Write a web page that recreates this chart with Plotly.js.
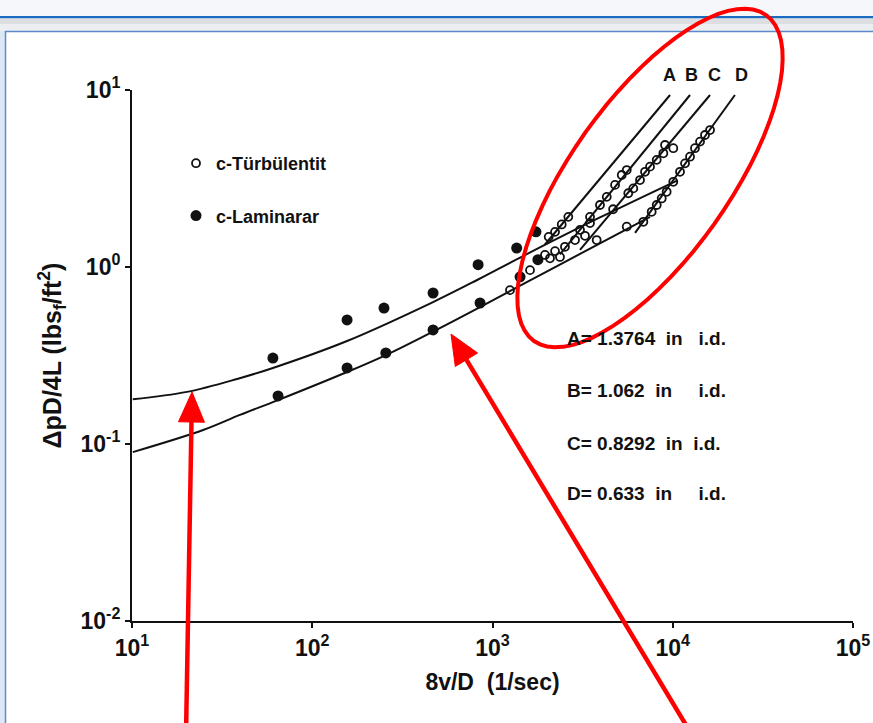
<!DOCTYPE html>
<html><head><meta charset="utf-8">
<script src="https://cdn.plot.ly/plotly-3.0.1.min.js"></script>
<style>html,body{margin:0;padding:0;background:#fff;} #chart{width:873px;height:723px;}</style>
</head><body><div id="chart"></div>
<script>
// ---- axis ticks ----
const xTickVals = [10, 100, 1000, 10000, 100000];
const xTickText = ['10<sup>1</sup>', '10<sup>2</sup>', '10<sup>3</sup>', '10<sup>4</sup>', '10<sup>5</sup>'];
const yTickVals = [0.01, 0.1, 1, 10];
const yTickText = ['10<sup>-2</sup>', '10<sup>-1</sup>', '10<sup>0</sup>', '10<sup>1</sup>'];

// ---- laminar model curves ----
const upperCurveX = [10.1, 20.2, 38.3, 60.5, 156, 468, 832, 1476, 3945, 10570];
const upperCurveY = [0.179, 0.197, 0.233, 0.269, 0.382, 0.634, 0.850, 1.153, 1.905, 3.08];
const lowerCurveX = [10.1, 24.8, 39.7, 64.6, 156, 256, 468, 853, 1476, 3475, 7480];
const lowerCurveY = [0.090, 0.120, 0.146, 0.177, 0.255, 0.318, 0.432, 0.594, 0.801, 1.27, 1.92];

// ---- laminar data (filled) ----
const lamUpperX = [60.5, 156, 250, 468, 832, 1362, 1742];
const lamUpperY = [0.306, 0.502, 0.586, 0.713, 1.03, 1.28, 1.58];
const lamLowerX = [64.6, 156, 256, 468, 853, 1422, 1786];
const lamLowerY = [0.187, 0.269, 0.327, 0.441, 0.626, 0.88, 1.10];

// ---- turbulent lines A-D ----
const lineAX = [1955, 9660];  const lineAY = [1.34, 9.37];
const lineBX = [2367, 12470]; const lineBY = [1.18, 9.37];
const lineCX = [3058, 16100]; const lineCY = [1.25, 9.37];
const lineDX = [6180, 22130]; const lineDY = [1.56, 9.37];

// ---- turbulent data (open) ----
const turbAX = [2050, 2223, 2421, 2634];
const turbAY = [1.48, 1.58, 1.74, 1.92];
const turbBX = [3475, 3947, 4303, 4785, 5212, 5556];
const turbBY = [1.92, 2.24, 2.49, 2.91, 3.31, 3.53];
const turbCX = [3058, 3475, 4667, 5665, 6040, 6581, 7015, 7480, 8147, 8867, 9060, 10070];
const turbCY = [1.62, 1.77, 2.12, 2.61, 2.78, 3.10, 3.45, 3.69, 4.03, 4.39, 4.89, 4.69];
const turbDX = [2084, 2367, 3784, 5556, 6870, 7640, 8147, 8685, 9250, 10070, 10970, 11700, 12470, 13280, 14170, 15100, 16100];
const turbDY = [1.12, 1.14, 1.42, 1.69, 1.80, 2.05, 2.24, 2.44, 2.66, 3.03, 3.45, 3.85, 4.20, 4.69, 5.11, 5.57, 5.94];
const turbLowX = [1250, 1615, 1955, 2223, 2523, 2870, 3260];
const turbLowY = [0.74, 0.96, 1.17, 1.23, 1.30, 1.42, 1.50];

const lineLabels = ['A', 'B', 'C', 'D'];
const diameterText = ['A= 1.3764  in   i.d.', 'B= 1.062  in     i.d.', 'C= 0.8292  in  i.d.', 'D= 0.633  in     i.d.'];

// ---- layout geometry (pixels) ----
const W = 873, H = 723, L = 132, R = 853, T = 90, B = 621;
const px = x => (x - L) / (R - L);
const py = y => (B - y) / (B - T);

const FONT = 'Liberation Sans, Arial, Helvetica, sans-serif';
const ink = '#111';

function lineTrace(x, y, spline) {
  return {x: x, y: y, type: 'scatter', mode: 'lines', showlegend: false, hoverinfo: 'skip',
    line: {color: ink, width: 2, shape: spline ? 'spline' : 'linear', smoothing: 1}};
}
function openTrace(x, y, name, show) {
  return {x: x, y: y, type: 'scatter', mode: 'markers', name: name, showlegend: !!show, legendgroup: 'turb',
    marker: {symbol: 'circle-open', size: 8, color: ink, line: {width: 1.8, color: ink}}};
}

const traces = [
  lineTrace(upperCurveX, upperCurveY, true),
  lineTrace(lowerCurveX, lowerCurveY, true),
  lineTrace(lineAX, lineAY, false),
  lineTrace(lineBX, lineBY, false),
  lineTrace(lineCX, lineCY, false),
  lineTrace(lineDX, lineDY, false),
  openTrace(turbAX, turbAY, 'c-Türbülentit', true),
  openTrace(turbBX, turbBY, 'B', false),
  openTrace(turbCX, turbCY, 'C', false),
  openTrace(turbDX, turbDY, 'D', false),
  openTrace(turbLowX, turbLowY, 'low', false),
  {x: lamUpperX, y: lamUpperY, type: 'scatter', mode: 'markers', name: 'c-Laminarar', legendgroup: 'lam',
   marker: {symbol: 'circle', size: 11, color: ink}},
  {x: lamLowerX, y: lamLowerY, type: 'scatter', mode: 'markers', name: 'lam2', showlegend: false, legendgroup: 'lam',
   marker: {symbol: 'circle', size: 11, color: ink}}
];

// red ellipse (highlight)
const ec = [650, 178], ea = 200, eb = 79, u = [0.58, -0.815], v = [0.815, 0.58];
let ep = '';
for (let i = 0; i <= 72; i++) {
  const t = i / 72 * 2 * Math.PI;
  const X = ec[0] + ea * Math.cos(t) * u[0] + eb * Math.sin(t) * v[0];
  const Y = ec[1] + ea * Math.cos(t) * u[1] + eb * Math.sin(t) * v[1];
  ep += (i === 0 ? 'M' : 'L') + px(X).toFixed(4) + ',' + py(Y).toFixed(4);
}
ep += 'Z';

// red arrows as shapes
function arrowShapes(tail, tip) {
  const dx = tip[0] - tail[0], dy = tip[1] - tail[1], len = Math.hypot(dx, dy);
  const d = [dx / len, dy / len], n = [-d[1], d[0]];
  const hl = 30, hw = 13;
  const base = [tip[0] - hl * d[0], tip[1] - hl * d[1]];
  return [
    {type: 'line', xref: 'paper', yref: 'paper', x0: px(tail[0]), y0: py(tail[1]), x1: px(base[0] + 4 * d[0]), y1: py(base[1] + 4 * d[1]),
     line: {color: '#ff0000', width: 4.5}, layer: 'above'},
    {type: 'path', xref: 'paper', yref: 'paper', layer: 'above', fillcolor: '#ff0000', line: {color: '#ff0000', width: 1},
     path: 'M' + px(tip[0]) + ',' + py(tip[1]) + 'L' + px(base[0] + hw * n[0]) + ',' + py(base[1] + hw * n[1]) +
           'L' + px(base[0] - hw * n[0]) + ',' + py(base[1] - hw * n[1]) + 'Z'}
  ];
}

const shapes = [
  {type: 'rect', xref: 'paper', yref: 'paper', x0: px(0), x1: px(W), y0: py(0), y1: py(16), fillcolor: '#f5f7fb', line: {width: 0}, layer: 'below'},
  {type: 'rect', xref: 'paper', yref: 'paper', x0: px(0), x1: px(W), y0: py(16), y1: py(18.5), fillcolor: '#1b6cc0', line: {width: 0}, layer: 'below'},
  {type: 'rect', xref: 'paper', yref: 'paper', x0: px(0), x1: px(W), y0: py(18.5), y1: py(24), fillcolor: '#dcdee2', line: {width: 0}, layer: 'below'},
  {type: 'rect', xref: 'paper', yref: 'paper', x0: px(0), x1: px(W), y0: py(24), y1: py(31), fillcolor: '#eceef1', line: {width: 0}, layer: 'below'},
  {type: 'rect', xref: 'paper', yref: 'paper', x0: px(0), x1: px(5), y0: py(31), y1: py(H), fillcolor: '#dde8f6', line: {width: 0}, layer: 'below'},
  {type: 'rect', xref: 'paper', yref: 'paper', x0: px(5.5), x1: px(W + 5), y0: py(31.5), y1: py(H + 5), fillcolor: '#ffffff', line: {width: 1.5, color: '#5b8bcc'}, layer: 'below'},
  {type: 'path', xref: 'paper', yref: 'paper', path: ep, line: {color: '#ff0000', width: 4}, layer: 'above'}
].concat(arrowShapes([186, 735], [192, 392]), arrowShapes([692, 735], [451, 334]));

const annotations = [];
const labelPx = [669, 691, 714, 741];
lineLabels.forEach((t, i) => annotations.push({x: px(labelPx[i]), y: py(75), xref: 'paper', yref: 'paper', text: t, showarrow: false,
  xanchor: 'center', yanchor: 'middle', font: {family: FONT, size: 18, color: ink, weight: 'bold'}}));
const dY = [338, 390, 443, 493];
diameterText.forEach((t, i) => annotations.push({x: px(565), y: py(dY[i]), xref: 'paper', yref: 'paper', xanchor: 'left', yanchor: 'middle',
  text: t, showarrow: false, font: {family: FONT, size: 19, color: ink, weight: 'bold'}}));

const axisCommon = {type: 'log', showgrid: false, zeroline: false, showline: true, linecolor: ink, linewidth: 2,
  ticks: 'outside', ticklen: 5, tickwidth: 2, tickcolor: ink, tickmode: 'array',
  tickfont: {family: FONT, size: 23, color: ink, weight: 'bold'}};

const layout = {
  width: W, height: H,
  margin: {l: L, r: W - R, t: T, b: H - B, pad: 0},
  paper_bgcolor: '#ffffff', plot_bgcolor: 'rgba(0,0,0,0)',
  font: {family: FONT, color: ink},
  xaxis: Object.assign({}, axisCommon, {range: [1, 5], tickvals: xTickVals, ticktext: xTickText,
    title: {text: '8v/D  (1/sec)\u00a0\u00a0\u00a0\u00a0\u00a0\u00a0\u00a0', font: {family: FONT, size: 23, color: ink, weight: 'bold'}, standoff: 14}}),
  yaxis: Object.assign({}, axisCommon, {range: [-2, 1], tickvals: yTickVals, ticktext: yTickText,
    title: {text: 'ΔpD/4L (lbs<sub>f</sub>/ft<sup>2</sup>)', font: {family: FONT, size: 25, color: ink, weight: 'bold'}, standoff: 12}}),
  showlegend: true,
  legend: {x: px(176), y: py(145), xanchor: 'left', yanchor: 'top', bgcolor: 'rgba(0,0,0,0)',
    font: {family: FONT, size: 18, color: ink, weight: 'bold'}, itemwidth: 30, tracegroupgap: 26, traceorder: 'grouped'},
  shapes: shapes,
  annotations: annotations
};

Plotly.newPlot('chart', traces, layout, {staticPlot: true, displayModeBar: false});
</script></body></html>
